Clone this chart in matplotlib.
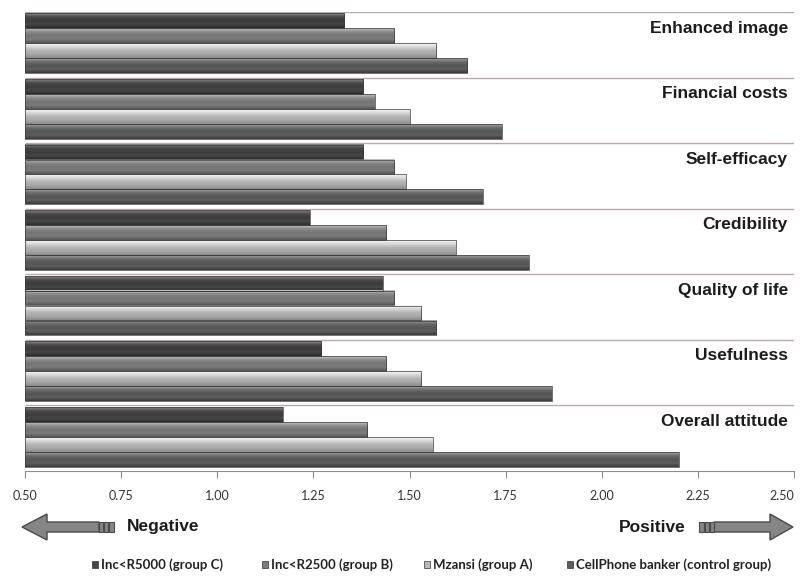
import numpy as np
import matplotlib.pyplot as plt
from matplotlib.colors import LinearSegmentedColormap
from matplotlib.patches import Polygon, Rectangle

# mean attitude scores per construct, one list per group
categories = ["Enhanced image", "Financial costs", "Self-efficacy", "Credibility",
              "Quality of life", "Usefulness", "Overall attitude"]
group_c = [1.33, 1.38, 1.38, 1.24, 1.43, 1.27, 1.17]
group_b = [1.46, 1.41, 1.46, 1.44, 1.46, 1.44, 1.39]
group_a = [1.57, 1.50, 1.49, 1.62, 1.53, 1.53, 1.56]
control = [1.65, 1.74, 1.69, 1.81, 1.57, 1.87, 2.20]
series_names = ["Inc<R5000 (group C)", "Inc<R2500 (group B)",
                "Mzansi (group A)", "CellPhone banker (control group)"]
xticks = [0.50, 0.75, 1.00, 1.25, 1.50, 1.75, 2.00, 2.25, 2.50]

# shading for the cylinder look, top -> bottom of each bar
shades = [
    ["#8a8a8a", "#4a4a4a", "#3c3c3c", "#464646", "#2e2e2e"],
    ["#c4c4c4", "#8a8a8a", "#747474", "#7c7c7c", "#555555"],
    ["#f8f8f8", "#d8d8d8", "#b4b4b4", "#a8a8a8", "#8a8a8a"],
    ["#a4a4a4", "#6a6a6a", "#555555", "#5e5e5e", "#3a3a3a"],
]
legend_cols = ["#444444", "#7a7a7a", "#b8b8b8", "#5c5c5c"]
bold_font = ["Liberation Sans", "DejaVu Sans"]
narrow_font = ["Lato", "DejaVu Sans"]

fig = plt.figure(figsize=(8.02, 5.76), dpi=100)
ax = fig.add_axes([25 / 802, 1 - 471 / 576, 769 / 802, 459 / 576])

series = [group_c, group_b, group_a, control]
h = 0.226
offsets = [0.135, 0.363, 0.591, 0.819]
grad = np.linspace(0, 1, 64).reshape(-1, 1)
for j, vals in enumerate(series):
    cmap = LinearSegmentedColormap.from_list("s%d" % j, shades[j])
    for i, v in enumerate(vals):
        y = i + offsets[j]
        ax.imshow(grad, cmap=cmap, aspect="auto", interpolation="bilinear",
                  extent=(0.5, v, y + h / 2, y - h / 2), zorder=2)
        ax.add_patch(Rectangle((0.5, y - h / 2), v - 0.5, h, fill=False,
                               edgecolor="#3a3a3a", lw=0.5, zorder=3))

ax.hlines(range(len(categories)), 0.5, 2.5, color="#b5a9a9", lw=1.0, zorder=1)

for i, name in enumerate(categories):
    ax.text(2.484, i + 0.245, name, ha="right", va="center", fontsize=12.5,
            fontweight="bold", family=bold_font, color="#1c1c1c", zorder=4)

ax.set_xlim(0.5, 2.5)
ax.set_ylim(len(categories), 0)
ax.set_xticks(xticks)
ax.set_xticklabels(["%.2f" % t for t in xticks], family=narrow_font,
                   fontsize=9, color="#333333")
ax.get_xticklabels()[-1].set_horizontalalignment("right")
ax.set_yticks([])
for s in ["top", "left", "right"]:
    ax.spines[s].set_visible(False)
ax.spines["bottom"].set_color("#8c8c8c")
ax.tick_params(axis="x", direction="out", length=5, color="#8c8c8c", pad=9)

# direction arrows and legend under the axis (pixel coordinates)
ov = fig.add_axes([0, 0, 1, 1])
ov.set_xlim(0, 802)
ov.set_ylim(576, 0)
ov.axis("off")
ov.patch.set_alpha(0)

arrow_fc, arrow_ec = "#858585", "#4a4a4a"
left = [(22, 527), (47, 514), (47, 522), (99, 522), (99, 532), (47, 532), (47, 540)]
ov.add_patch(Polygon(left, closed=True, fc=arrow_fc, ec=arrow_ec, lw=1))
for x0, w in [(99, 4), (104, 3.5), (108.5, 5)]:
    ov.add_patch(Rectangle((x0, 522), w, 10, fc=arrow_fc, ec=arrow_ec, lw=0.8))
right = [(793, 527), (770, 514), (770, 522), (714, 522), (714, 532), (770, 532), (770, 540)]
ov.add_patch(Polygon(right, closed=True, fc=arrow_fc, ec=arrow_ec, lw=1))
for x0, w in [(699, 5), (705, 3.5), (709.5, 4.5)]:
    ov.add_patch(Rectangle((x0, 522), w, 10, fc=arrow_fc, ec=arrow_ec, lw=0.8))
ov.text(127, 527, "Negative", ha="left", va="center", fontsize=12.5,
        fontweight="bold", family=bold_font, color="#1c1c1c")
ov.text(686, 527, "Positive", ha="right", va="center", fontsize=12.5,
        fontweight="bold", family=bold_font, color="#1c1c1c")

legend_x = [92, 262, 424, 567]
for x0, name, c in zip(legend_x, series_names, legend_cols):
    ov.add_patch(Rectangle((x0, 561), 6, 7, fc=c, ec="#333333", lw=0.5))
    ov.text(x0 + 9, 565, name, ha="left", va="center", fontsize=9.5,
            fontweight="bold", family=narrow_font, color="#222222")

fig.savefig("out.png", dpi=100)
